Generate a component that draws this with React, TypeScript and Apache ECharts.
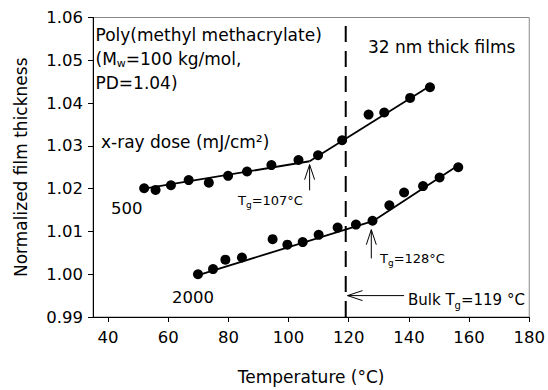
import React, { useEffect, useRef } from 'react';
import * as echarts from 'echarts';

const FONT = 'DejaVu Sans';

const xTicks = [40, 60, 80, 100, 120, 140, 160, 180];

const temp500 = [52.0, 55.8, 60.9, 66.8, 73.5, 79.9, 86.2, 94.3, 103.3, 109.8, 117.8, 126.6, 131.8, 140.4, 147.0];
const thick500 = [1.0201, 1.0197, 1.0208, 1.022, 1.0214, 1.023, 1.024, 1.0255, 1.0267, 1.0278, 1.0313, 1.0373, 1.0378, 1.0412, 1.0437];

const temp2000 = [69.9, 74.9, 79.0, 84.5, 94.7, 99.6, 104.7, 110.0, 116.3, 122.4, 127.9, 133.5, 138.4, 144.7, 150.2, 156.4];
const thick2000 = [1.0, 1.0012, 1.0034, 1.0039, 1.0082, 1.0069, 1.0075, 1.0092, 1.0109, 1.0116, 1.0125, 1.0161, 1.0191, 1.0206, 1.0226, 1.025];

const fit500Glass = [[52, 1.02], [107, 1.0264]];
const fit500Melt = [[107, 1.0264], [147, 1.044]];
const fit2000Glass = [[70, 0.9998], [128, 1.0124]];
const fit2000Melt = [[128, 1.0124], [156.7, 1.0256]];

const bulkTg = 119;
const bulkLine = [[bulkTg, 0.99], [bulkTg, 1.06]];

// arrows: [fromT, fromY, tipT, tipY]
const arrows = [
  [107, 1.0196, 107, 1.0256],
  [127.5, 1.0037, 127.5, 1.0104],
  [138.4, 0.995, 119.6, 0.995],
];

const zip = (xs: number[], ys: number[]) => xs.map((x, i) => [x, ys[i]]);

export default function App() {
  const ref = useRef<HTMLDivElement>(null);
  useEffect(() => {
    const chart = echarts.init(ref.current!, null, { renderer: 'svg' });
    const lineStyle = { color: '#000', width: 1.8, opacity: 1 };
    const fitSeries = (data: number[][]) => ({
      type: 'line',
      data,
      symbol: 'none',
      lineStyle,
      z: 2,
      silent: true,
    });
    const txt = (x: number, y: number, text: string, size: number, rich?: any) => ({
      type: 'text',
      x,
      y,
      style: {
        text,
        fill: '#000',
        fontSize: size,
        fontFamily: FONT,
        align: 'left',
        verticalAlign: 'middle',
        rich,
      },
    });
    const richSub = (size: number, subSize: number, pad: number) => ({
      m: { fontSize: size, fontFamily: FONT, fill: '#000' },
      s: { fontSize: subSize, fontFamily: FONT, fill: '#000', padding: [pad, 0, 0, 0] },
    });
    const dotStyle = { color: '#000', opacity: 1 };

    chart.setOption({
      animation: false,
      backgroundColor: '#fff',
      grid: {
        left: 93,
        right: 18,
        top: 17.5,
        bottom: 68.5,
        show: true,
        borderColor: '#888',
        borderWidth: 1,
      },
      xAxis: {
        type: 'value',
        min: 35,
        max: 180,
        name: 'Temperature (°C)',
        nameLocation: 'middle',
        nameGap: 51,
        nameTextStyle: { fontSize: 17, fontFamily: FONT, color: '#000' },
        axisLine: { onZero: false, lineStyle: { color: '#000', width: 1 } },
        axisTick: { show: true, inside: false, length: 5, customValues: xTicks, lineStyle: { color: '#000' } },
        axisLabel: { customValues: xTicks, margin: 12, fontSize: 16.5, fontFamily: FONT, color: '#000' },
        splitLine: { show: false },
      },
      yAxis: {
        type: 'value',
        min: 0.99,
        max: 1.06,
        interval: 0.01,
        name: 'Normalized film thickness',
        nameLocation: 'middle',
        nameGap: 64,
        nameTextStyle: { fontSize: 17, fontFamily: FONT, color: '#000' },
        axisLine: { onZero: false, lineStyle: { color: '#000', width: 1 } },
        axisTick: { show: true, inside: false, length: 5, lineStyle: { color: '#000' } },
        axisLabel: {
          margin: 10,
          fontSize: 16.5,
          fontFamily: FONT,
          color: '#000',
          formatter: (v: number) => v.toFixed(2),
        },
        splitLine: { show: false },
      },
      series: [
        fitSeries(fit500Glass),
        fitSeries(fit500Melt),
        fitSeries(fit2000Glass),
        fitSeries(fit2000Melt),
        {
          type: 'line',
          data: bulkLine,
          symbol: 'none',
          lineStyle: { color: '#000', width: 2, type: [16, 9], opacity: 1 },
          z: 1,
          silent: true,
        },
        {
          type: 'scatter',
          name: '500',
          data: zip(temp500, thick500),
          symbol: 'circle',
          symbolSize: 10,
          itemStyle: dotStyle,
          emphasis: { disabled: true },
          z: 3,
        },
        {
          type: 'scatter',
          name: '2000',
          data: zip(temp2000, thick2000),
          symbol: 'circle',
          symbolSize: 10,
          itemStyle: dotStyle,
          emphasis: { disabled: true },
          z: 3,
        },
        {
          type: 'custom',
          data: arrows,
          z: 4,
          silent: true,
          renderItem: (params: any, api: any) => {
            const a = api.coord([api.value(0), api.value(1)]);
            const b = api.coord([api.value(2), api.value(3)]);
            const dx = a[0] - b[0];
            const dy = a[1] - b[1];
            const len = Math.sqrt(dx * dx + dy * dy) || 1;
            const ux = dx / len;
            const uy = dy / len;
            const hl = 15;
            const hw = 5;
            const px = -uy;
            const py = ux;
            const st = { stroke: '#000', lineWidth: 1, fill: 'none' };
            return {
              type: 'group',
              children: [
                { type: 'line', shape: { x1: a[0], y1: a[1], x2: b[0], y2: b[1] }, style: st },
                {
                  type: 'polyline',
                  shape: {
                    points: [
                      [b[0] + ux * hl + px * hw, b[1] + uy * hl + py * hw],
                      [b[0], b[1]],
                      [b[0] + ux * hl - px * hw, b[1] + uy * hl - py * hw],
                    ],
                  },
                  style: st,
                },
              ],
            };
          },
        },
      ],
      graphic: [
        txt(95.5, 35, 'Poly(methyl methacrylate)', 17),
        txt(95.5, 58.5, '{m|(M}{s|w}{m|=100 kg/mol,}', 17, richSub(17, 11, 10)),
        txt(95.5, 82.5, 'PD=1.04)', 17),
        txt(101, 142, 'x-ray dose (mJ/cm²)', 17),
        txt(111, 208, '500', 16.5),
        txt(172, 297, '2000', 16.5),
        txt(368, 47, '32 nm thick films', 17),
        txt(238, 200, '{m|T}{s|g}{m|=107°C}', 13, richSub(13, 9, 9)),
        txt(380, 258, '{m|T}{s|g}{m|=128°C}', 13, richSub(13, 9, 9)),
        txt(408, 300, '{m|Bulk T}{s|g}{m|=119 °C}', 15, richSub(15, 10, 10)),
      ],
    });
    return () => chart.dispose();
  }, []);
  return <div ref={ref} style={{ position: 'fixed', left: 0, top: 0, width: 548, height: 390 }} />;
}
